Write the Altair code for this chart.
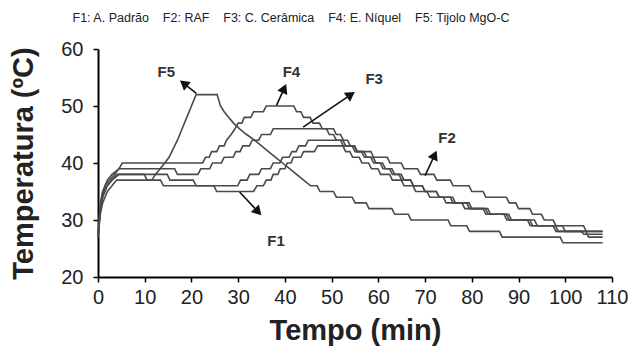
import altair as alt
import pandas as pd
import numpy as np

# ---------------- data ----------------
series_names = ["F1", "F2", "F3", "F4", "F5"]

f1_t = [0, 0.5, 1, 2, 3, 4.5, 14.8, 15.4, 20.4, 21, 24.8, 25.4, 33.3, 34, 35.4, 36, 37, 37.5, 38.5, 39, 40, 40.5, 41.3, 41.8, 43.4, 44, 46.3, 47, 52.4, 53, 53.9, 54.5, 55.9, 56.5, 57.9, 58.5, 59.9, 60.5, 62.4, 63, 64.9, 65.5, 67.4, 68, 70.4, 71, 73.9, 74.5, 77.9, 78.5, 82.4, 83, 87.4, 88, 93.4, 94, 99.4, 100, 104.4, 105, 108]
f1_T = [27, 32, 34, 36, 37, 38, 38, 37, 37, 36, 36, 35, 35, 36, 36, 37, 37, 38, 38, 39, 39, 40, 40, 41, 41, 42, 42, 43, 43, 42, 42, 41, 41, 40, 40, 39, 39, 38, 38, 37, 37, 36, 36, 35, 35, 34, 34, 33, 33, 32, 32, 31, 31, 30, 30, 29, 29, 28, 28, 27, 27]

f2_t = [0, 0.5, 1, 2, 3, 4, 13.4, 14, 29.9, 30.5, 31.9, 32.5, 34.4, 35, 36.9, 37.5, 38.9, 39.5, 40.9, 41.5, 42.4, 43, 44.4, 45, 51.9, 52.5, 54.9, 55.5, 58.4, 59, 61.9, 62.5, 64.9, 65.5, 68.4, 69, 71.9, 72.5, 75.4, 76, 79.4, 80, 82.4, 83, 87.4, 88, 89.4, 90, 92.4, 93, 94.9, 95.5, 97.4, 98, 103.9, 104.5, 108]
f2_T = [27, 31, 33, 35, 36, 37, 37, 36, 36, 37, 37, 38, 38, 39, 39, 40, 40, 41, 41, 42, 42, 43, 43, 44, 44, 43, 43, 42, 42, 41, 41, 40, 40, 39, 39, 38, 38, 37, 37, 36, 36, 35, 35, 34, 34, 33, 33, 32, 32, 31, 31, 30, 30, 29, 29, 28, 28]

f3_t = [0, 0.5, 1, 2, 3, 4.5, 16.4, 17, 21.4, 22, 23.9, 24.5, 26.4, 27, 28.9, 29.5, 30.4, 31, 32.4, 33, 34.4, 35, 36.9, 37.5, 50.4, 51, 51.9, 52.5, 53.4, 54, 54.9, 55.5, 56.9, 57.5, 58.9, 59.5, 60.9, 61.5, 62.9, 63.5, 64.9, 65.5, 66.9, 67.5, 69.4, 70, 72.4, 73, 75.9, 76.5, 79.4, 80, 83.4, 84, 87.9, 88.5, 92.4, 93, 97.4, 98, 103.4, 104, 108]
f3_T = [27, 32, 35, 37, 38, 39, 39, 38, 38, 39, 39, 40, 40, 41, 41, 42, 42, 43, 43, 44, 44, 45, 45, 46, 46, 45, 45, 44, 44, 43, 43, 42, 42, 41, 41, 40, 40, 39, 39, 38, 38, 37, 37, 36, 36, 35, 35, 34, 34, 33, 33, 32, 32, 31, 31, 30, 30, 29, 29, 28, 28, 27.5, 27.5]

f4_t = [0, 0.5, 1, 1.5, 2.5, 3.5, 4.5, 5.2, 22.4, 23, 23.8, 24.3, 25.4, 26, 27, 27.5, 28.5, 29.3, 30, 30.8, 31.3, 32.7, 33.3, 35.4, 36, 41.9, 42.5, 43.4, 44, 45.4, 46, 47.4, 48, 48.9, 49.5, 50.4, 51, 52.4, 53, 54.4, 55, 56.4, 57, 58.4, 59, 60.4, 61, 62.4, 63, 64.4, 65, 66.9, 67.5, 69.4, 70, 72.4, 73, 75.4, 76, 78.9, 79.5, 82.9, 83.5, 86.9, 87.5, 91.9, 92.5, 97.9, 98.5, 108]
f4_T = [27, 32, 34, 36, 37, 38, 39, 40, 40, 41, 41, 42, 42, 43, 43, 44, 45, 46, 47, 47, 48, 48, 49, 49, 50, 50, 49, 49, 48, 48, 47, 47, 46, 46, 45, 45, 44, 44, 43, 43, 42, 42, 41, 41, 40, 40, 39, 39, 38, 38, 37, 37, 36, 36, 35, 35, 34, 34, 33, 33, 32, 32, 31, 31, 30, 30, 29, 29, 28, 28]

f5_t = [0, 0.5, 1, 2, 3, 4, 9.9, 10.5, 11.5, 12.3, 13.3, 14.3, 15.2, 15.8, 16.4, 17, 18, 19, 20, 21, 25.5, 26.2, 27, 28, 29, 30.3, 31.8, 33.5, 35, 36.5, 38, 39.5, 41, 42.5, 44, 45.5, 46.9, 47.5, 50.4, 51, 54.4, 55, 57.4, 58, 62.9, 63.5, 66.4, 67, 74.9, 75.5, 78.9, 79.5, 85.9, 86.5, 98.9, 99.5, 108]
f5_T = [27, 33, 35, 36, 37, 38, 38, 37, 37, 38, 39, 40, 41, 42, 43, 44, 46, 48, 50, 52, 52, 50, 49, 48, 47, 46, 45, 44, 43, 42, 41, 40, 39, 38, 37, 36, 36, 35, 35, 34, 34, 33, 33, 32, 32, 31, 31, 30, 30, 29, 29, 28, 28, 27, 27, 26, 26]

x_ticks = list(range(0, 111, 10))
y_ticks = list(range(20, 61, 5))

legend_items = ["F1: A. Padrão", "F2: RAF", "F3: C. Cerâmica", "F4: E. Níquel", "F5: Tijolo MgO-C"]

label_names = ["F1", "F2", "F3", "F4", "F5"]
label_t = [38.1, 74.7, 59.1, 41.4, 14.6]
label_T = [26.3, 44.4, 54.7, 56.0, 56.0]
arrow_tail_t = [30.3, 70.0, 43.9, 38.2, 21.05]
arrow_tail_T = [34.9, 37.8, 46.3, 50.1, 52.2]
arrow_tip_t = [35.0, 72.5, 55.0, 40.3, 17.5]
arrow_tip_T = [30.8, 42.2, 52.5, 53.9, 54.5]

# ---------------- layout / style ----------------
W, H = 514, 228
PX_MIN = W / 110.0
PX_DEG = H / 40.0
FONT = "Liberation Sans"
LINE_COLOR = "#4a4a4a"

legend_text = "\u00a0\u00a0\u00a0\u00a0".join(legend_items)

all_t = [f1_t, f2_t, f3_t, f4_t, f5_t]
all_T = [f1_T, f2_T, f3_T, f4_T, f5_T]
frames = []
for name, ts, Ts in zip(series_names, all_t, all_T):
    frames.append(pd.DataFrame({"t": ts, "T": Ts, "series": name, "order": range(len(ts))}))
lines_df = pd.concat(frames, ignore_index=True)

# arrow geometry (head orientation in pixel space)
tt = np.array(arrow_tail_t); tT = np.array(arrow_tail_T)
pt = np.array(arrow_tip_t); pT = np.array(arrow_tip_T)
dx = (pt - tt) * PX_MIN
dy = (pT - tT) * PX_DEG
length = np.hypot(dx, dy)
ux, uy = dx / length, dy / length
back = 5.0
head_t = pt - back * ux / PX_MIN
head_T = pT - back * uy / PX_DEG
angle = np.degrees(np.arctan2(dx, dy)) % 360

arrows_df = pd.DataFrame({
    "name": label_names,
    "t0": tt, "T0": tT,
    "t1": head_t, "T1": head_T,
    "ang": angle,
})
labels_df = pd.DataFrame({"name": label_names, "t": label_t, "T": label_T})

xscale = alt.Scale(domain=[0, 110], nice=False)
yscale = alt.Scale(domain=[20, 60], nice=False, zero=False)

xaxis = alt.Axis(values=x_ticks, title="Tempo (min)", labelFlush=False, labelOverlap=False,
                 labelPadding=5, titlePadding=9)
yaxis = alt.Axis(values=y_ticks, title="Temperatura (ºC)", labelFlush=False, labelOverlap=False,
                 labelPadding=10, titlePadding=22)

lines = alt.Chart(lines_df).mark_line(strokeWidth=1.6, color=LINE_COLOR).encode(
    x=alt.X("t:Q", scale=xscale, axis=xaxis),
    y=alt.Y("T:Q", scale=yscale, axis=yaxis),
    detail="series:N",
    order="order:Q",
)

rules = alt.Chart(arrows_df).mark_rule(strokeWidth=1.6, color="#111").encode(
    x=alt.X("t0:Q", scale=xscale), y=alt.Y("T0:Q", scale=yscale),
    x2="t1:Q", y2="T1:Q",
)

heads = alt.Chart(arrows_df).mark_point(
    shape="triangle-up", filled=True, size=120, color="#111", opacity=1
).encode(
    x=alt.X("t1:Q", scale=xscale), y=alt.Y("T1:Q", scale=yscale),
    angle=alt.Angle("ang:Q", scale=None),
)

texts = alt.Chart(labels_df).mark_text(
    font=FONT, fontSize=15, fontWeight="bold", color="#333"
).encode(
    x=alt.X("t:Q", scale=xscale), y=alt.Y("T:Q", scale=yscale), text="name:N",
)

chart = alt.layer(lines, rules, heads, texts).properties(
    width=W, height=H,
    title=alt.TitleParams(legend_text, font=FONT, fontSize=12.5, fontWeight="normal",
                          color="#222", anchor="middle", offset=15, dx=-64),
    padding={"left": 90, "top": 41, "right": 16, "bottom": 75},
    autosize=alt.AutoSizeParams(type="none"),
).configure_view(stroke=None).configure_axis(
    domainColor="black", domainWidth=2, tickColor="black", tickWidth=1.5, tickSize=5,
    labelFont=FONT, labelFontSize=20, labelColor="#222",
    titleFont=FONT, titleFontSize=29, titleFontWeight="bold", titleColor="#222",
    grid=False,
)

chart.save("out.html", embed_options={"renderer": "svg", "actions": False})
